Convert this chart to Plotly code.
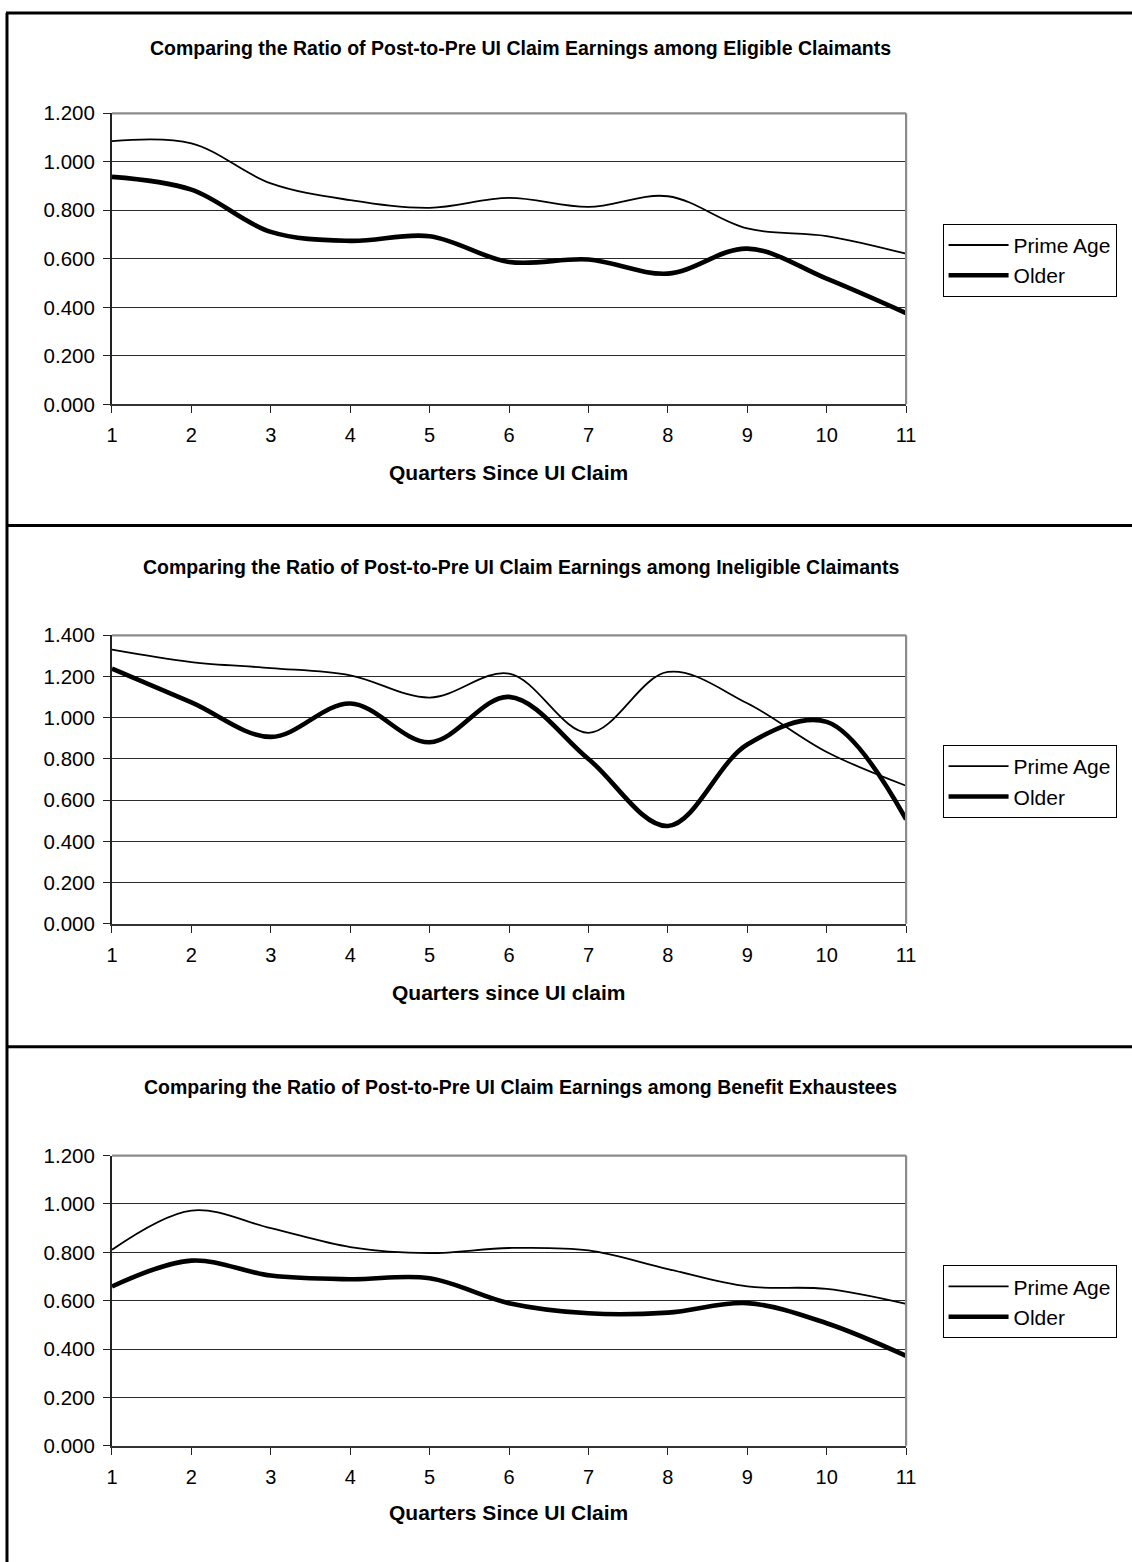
import plotly.graph_objects as go

# Ratio of post-to-pre UI claim earnings by quarter since claim
quarters = list(range(1, 12))

elig_prime = [1.085, 1.076, 0.911, 0.842, 0.810, 0.851, 0.814, 0.858, 0.725, 0.694, 0.621]
elig_older = [0.938, 0.885, 0.711, 0.674, 0.693, 0.587, 0.597, 0.539, 0.642, 0.518, 0.376]

inel_prime = [1.330, 1.270, 1.241, 1.206, 1.098, 1.214, 0.927, 1.222, 1.070, 0.834, 0.670]
inel_older = [1.238, 1.074, 0.907, 1.069, 0.881, 1.101, 0.800, 0.475, 0.870, 0.980, 0.507]

exh_prime = [0.811, 0.973, 0.900, 0.822, 0.797, 0.818, 0.808, 0.731, 0.659, 0.649, 0.587]
exh_older = [0.659, 0.766, 0.704, 0.689, 0.693, 0.590, 0.548, 0.551, 0.590, 0.507, 0.372]

series_names = ["Prime Age", "Older"]

panel_titles = [
    "Comparing the Ratio of Post-to-Pre UI Claim Earnings among Eligible Claimants",
    "Comparing the Ratio of Post-to-Pre UI Claim Earnings among Ineligible Claimants",
    "Comparing the Ratio of Post-to-Pre UI Claim Earnings among Benefit Exhaustees",
]
x_titles = ["Quarters Since UI Claim", "Quarters since UI claim", "Quarters Since UI Claim"]
y_max = [1.2, 1.4, 1.2]

panels = [
    (elig_prime, elig_older),
    (inel_prime, inel_older),
    (exh_prime, exh_older),
]

W, H = 1132, 1562
FONT = "Liberation Sans, Arial, sans-serif"


def fx(px):
    return px / W


def fy(py):
    return 1 - py / H


# figure-pixel geometry of each panel: plot top/bottom, title y, x-title y, legend top
geo = [
    dict(top=102.8, bottom=398.2, title=36.6, xtitle=467.4, legend=215.0),
    dict(top=632.6, bottom=925.5, title=563.7, xtitle=995.5, legend=744.0),
    dict(top=1160.7, bottom=1455.3, title=1090.7, xtitle=1522.5, legend=1272.0),
]
plot_left, plot_right = 107.5, 913.0
legend_left = 950.0
title_cx, xtitle_cx = 522.0, 510.0
separators = [521.1, 1050.2]

fig = go.Figure()
layout = dict(
    width=W, height=H,
    margin=dict(l=0, r=0, t=0, b=0),
    paper_bgcolor="white", plot_bgcolor="white",
    font=dict(family=FONT, color="black"),
    showlegend=True,
    annotations=[], shapes=[],
)

for i, (prime, older) in enumerate(panels):
    n = i + 1
    xa = "x" if n == 1 else f"x{n}"
    ya = "y" if n == 1 else f"y{n}"
    xkey = "xaxis" if n == 1 else f"xaxis{n}"
    ykey = "yaxis" if n == 1 else f"yaxis{n}"
    leg = "legend" if n == 1 else f"legend{n}"
    g = geo[i]

    for name, vals, width in ((series_names[0], prime, 1.8), (series_names[1], older, 4.6)):
        fig.add_trace(go.Scatter(
            x=quarters, y=vals, name=name, mode="lines",
            line=dict(color="black", width=width, shape="spline", smoothing=1.0),
            xaxis=xa, yaxis=ya, legend=leg, legendgroup=f"{leg}-{name}",
            hoverinfo="skip",
        ))

    yticks = [round(0.2 * k, 1) for k in range(int(round(y_max[i] / 0.2)) + 1)]
    layout[xkey] = dict(
        domain=[fx(plot_left), fx(plot_right)], anchor=ya,
        range=[1, 11], tickvals=quarters, ticktext=[str(q) for q in quarters],
        ticks="outside", ticklen=7, tickwidth=1.3, tickcolor="#222",
        showline=True, linecolor="#333", linewidth=2,
        showgrid=False, zeroline=False,
        tickfont=dict(size=20, family=FONT), ticklabelstandoff=5,
        fixedrange=True,
    )
    layout[ykey] = dict(
        domain=[fy(g["bottom"]), fy(g["top"])], anchor=xa,
        range=[0, y_max[i]], tickvals=yticks, ticktext=[f"{v:.3f}" for v in yticks],
        ticks="outside", ticklen=7, tickwidth=1.3, tickcolor="#222",
        showline=True, linecolor="#222", linewidth=2,
        showgrid=True, gridcolor="#2a2a2a", gridwidth=1,
        zeroline=False,
        tickfont=dict(size=20.5, family=FONT), ticklabelstandoff=4,
        fixedrange=True,
    )
    # inner halves of the crossing tick marks
    ox = f"xaxis{n + 3}"
    oy = f"yaxis{n + 3}"
    layout[ox] = dict(
        overlaying=xa, anchor=ya, side="bottom", range=[1, 11], tickvals=quarters,
        ticks="inside", ticklen=7, tickwidth=1.3, tickcolor="#222",
        showticklabels=False, showline=False, showgrid=False, zeroline=False,
        fixedrange=True,
    )
    layout[oy] = dict(
        overlaying=ya, anchor=xa, side="left", range=[0, y_max[i]], tickvals=yticks,
        ticks="inside", ticklen=7, tickwidth=1.3, tickcolor="#222",
        showticklabels=False, showline=False, showgrid=False, zeroline=False,
        fixedrange=True,
    )

    # grey frame on the top and right of the plot area
    for (x0, y0, x1, y1) in ((0, 1, 1, 1), (1, 0, 1, 1)):
        layout["shapes"].append(dict(
            type="line", xref=f"{xa} domain", yref=f"{ya} domain",
            x0=x0, y0=y0, x1=x1, y1=y1, line=dict(color="#8c8c8c", width=2.2),
        ))

    layout[leg] = dict(
        x=fx(legend_left), y=fy(g["legend"]), xanchor="left", yanchor="top",
        bgcolor="white", bordercolor="black", borderwidth=1,
        font=dict(size=21, family=FONT), tracegroupgap=0,
        itemwidth=60,
    )

    layout["annotations"].append(dict(
        text=f"<b>{panel_titles[i]}</b>", xref="paper", yref="paper",
        x=fx(title_cx), y=fy(g["title"]), xanchor="center", yanchor="middle",
        showarrow=False, font=dict(size=19.5, family=FONT),
    ))
    layout["annotations"].append(dict(
        text=f"<b>{x_titles[i]}</b>", xref="paper", yref="paper",
        x=fx(xtitle_cx), y=fy(g["xtitle"]), xanchor="center", yanchor="middle",
        showarrow=False, font=dict(size=21, family=FONT),
    ))

# outer frames around the three panels
frame = dict(color="black", width=3)
layout["shapes"].append(dict(type="line", xref="paper", yref="paper",
                             x0=fx(1.0), x1=fx(1.0), y0=fy(1.0), y1=-0.01, line=frame))
layout["shapes"].append(dict(type="line", xref="paper", yref="paper",
                             x0=0, x1=1.01, y0=fy(1.0), y1=fy(1.0), line=frame))
for yy in separators:
    layout["shapes"].append(dict(type="line", xref="paper", yref="paper",
                                 x0=0, x1=1.01, y0=fy(yy), y1=fy(yy), line=frame))

fig.update_layout(**layout)
fig.write_html("out.html")
